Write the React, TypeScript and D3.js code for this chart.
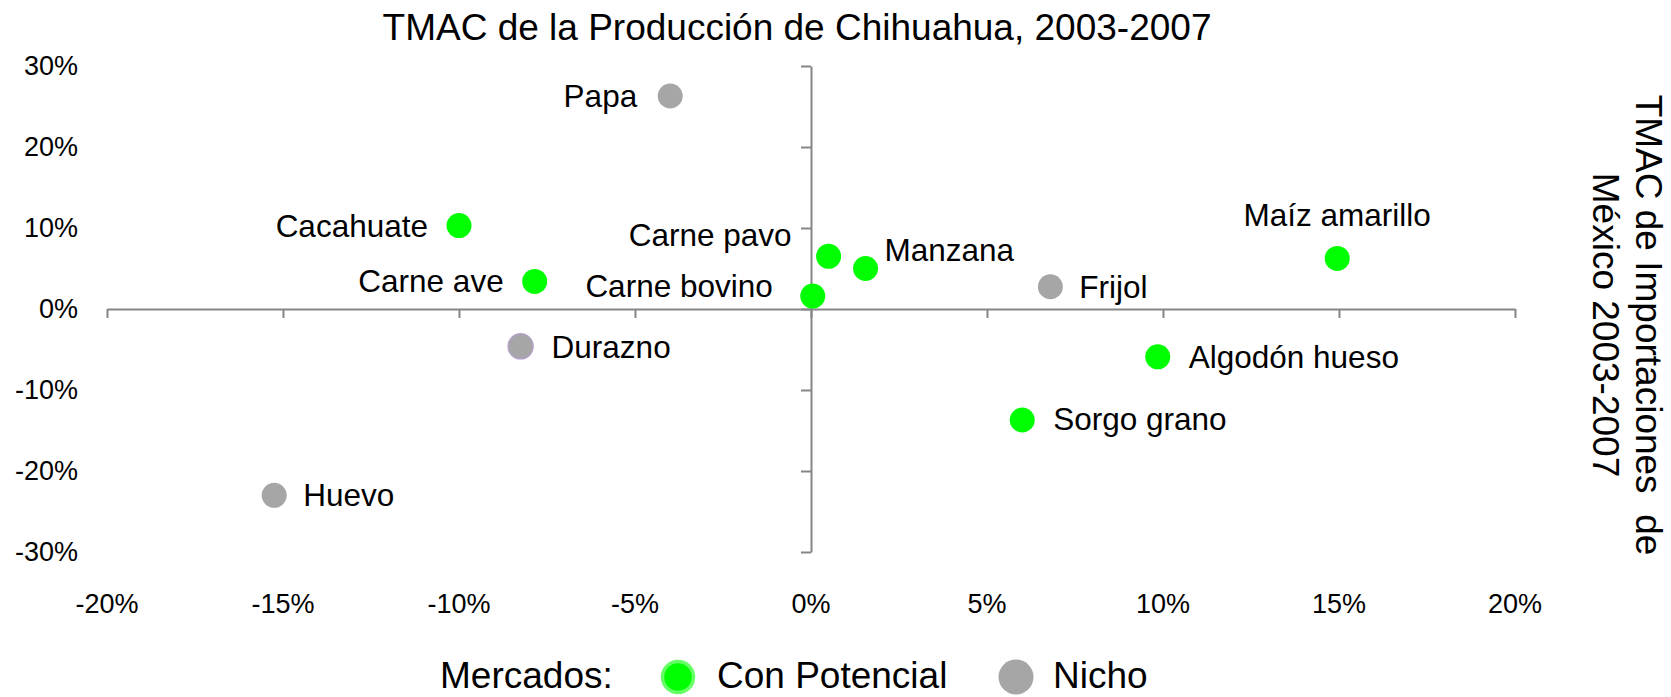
import React, { useRef, useEffect } from 'react';
import * as d3 from 'd3';

// TMAC producción Chihuahua (x) vs TMAC importaciones México (y), en %
const products = ['Papa', 'Cacahuate', 'Carne pavo', 'Carne ave', 'Carne bovino', 'Durazno', 'Manzana', 'Frijol', 'Maíz amarillo', 'Huevo', 'Algodón hueso', 'Sorgo grano'];
const prodGrowth = [-4.0, -10.0, 0.5, -7.85, 0.05, -8.25, 1.55, 6.8, 14.95, -15.25, 9.85, 6.0];
const importGrowth = [26.3, 10.3, 6.5, 3.4, 1.6, -4.6, 5.0, 2.75, 6.25, -23.0, -5.9, -13.7];
const markets = ['Nicho', 'Con Potencial', 'Con Potencial', 'Con Potencial', 'Con Potencial', 'Nicho', 'Con Potencial', 'Nicho', 'Con Potencial', 'Nicho', 'Con Potencial', 'Con Potencial'];

const xTicks = [-20, -15, -10, -5, 0, 5, 10, 15, 20];
const xTickLabels = ['-20%', '-15%', '-10%', '-5%', '0%', '5%', '10%', '15%', '20%'];
const yTicks = [-30, -20, -10, 0, 10, 20, 30];
const yTickLabels = ['-30%', '-20%', '-10%', '0%', '10%', '20%', '30%'];

const legendItems = ['Con Potencial', 'Nicho'];

// label placement relative to the marker
const labelPos = {
    'Papa': { dx: -33, dy: 11, anchor: 'end' },
    'Cacahuate': { dx: -31, dy: 11, anchor: 'end' },
    'Carne pavo': { dx: -37, dy: -10, anchor: 'end' },
    'Carne ave': { dx: -31, dy: 11, anchor: 'end' },
    'Carne bovino': { dx: -40, dy: 1, anchor: 'end' },
    'Durazno': { dx: 31, dy: 12, anchor: 'start' },
    'Manzana': { dx: 19, dy: -8, anchor: 'start' },
    'Frijol': { dx: 29, dy: 11, anchor: 'start' },
    'Maíz amarillo': { dx: 0, dy: -32, anchor: 'middle' },
    'Huevo': { dx: 29, dy: 11, anchor: 'start' },
    'Algodón hueso': { dx: 31, dy: 11, anchor: 'start' },
    'Sorgo grano': { dx: 31, dy: 10, anchor: 'start' },
};

const FONT = "'Liberation Sans', Arial, sans-serif";
const GREEN = '#00ff00';
const GREY = '#a6a6a6';
const AXIS = '#868686';

const App = () => {
    const svgRef = useRef(null);

    useEffect(() => {
        const svg = d3.select(svgRef.current);
        svg.selectAll('*').remove();
        const width = 1671;
        const height = 697;
        svg.attr('width', width).attr('height', height).style('font-family', FONT);

        const x = d3.scaleLinear().domain([-20, 20]).range([107, 1515]);
        const y = d3.scaleLinear().domain([-30, 30]).range([552, 66]);
        const color = d3.scaleOrdinal().domain(legendItems).range([GREEN, GREY]);

        // title
        svg.append('text')
            .attr('x', 797).attr('y', 40)
            .attr('text-anchor', 'middle')
            .attr('font-size', 37)
            .attr('fill', '#000')
            .text('TMAC de la Producción de Chihuahua, 2003-2007');

        // axes cross at zero
        svg.append('g')
            .attr('transform', `translate(0,${y(0)})`)
            .call(d3.axisBottom(x).tickValues(xTicks).tickSize(9).tickSizeOuter(0).tickFormat(() => ''))
            .call(g => g.selectAll('path,line').attr('stroke', AXIS).attr('stroke-width', 2));

        svg.append('g')
            .attr('transform', `translate(${x(0)},0)`)
            .call(d3.axisLeft(y).tickValues(yTicks).tickSize(10).tickSizeOuter(0).tickFormat(() => ''))
            .call(g => g.selectAll('path,line').attr('stroke', AXIS).attr('stroke-width', 2));

        // tick labels (low position)
        svg.append('g').selectAll('text')
            .data(xTicks)
            .join('text')
            .attr('x', d => x(d))
            .attr('y', 613)
            .attr('text-anchor', 'middle')
            .attr('font-size', 27)
            .text((d, i) => xTickLabels[i]);

        svg.append('g').selectAll('text')
            .data(yTicks)
            .join('text')
            .attr('x', 78)
            .attr('y', d => y(d))
            .attr('dy', '0.35em')
            .attr('text-anchor', 'end')
            .attr('font-size', 27)
            .text((d, i) => yTickLabels[i]);

        // secondary vertical title
        const t = svg.append('g').attr('font-size', 37);
        t.append('text')
            .attr('transform', 'translate(1636,325) rotate(90)')
            .attr('text-anchor', 'middle')
            .attr('xml:space', 'preserve')
            .style('white-space', 'pre')
            .text('TMAC de Importaciones  de');
        t.append('text')
            .attr('transform', 'translate(1593,325) rotate(90)')
            .attr('text-anchor', 'middle')
            .text('México 2003-2007');

        // points
        const pts = products.map((p, i) => ({ name: p, px: prodGrowth[i], py: importGrowth[i], market: markets[i] }));

        svg.append('g').selectAll('circle')
            .data(pts)
            .join('circle')
            .attr('cx', d => x(d.px))
            .attr('cy', d => y(d.py))
            .attr('r', 12.5)
            .attr('fill', d => color(d.market))
            .attr('stroke', d => d.name === 'Durazno' ? '#b3a2c7' : 'none')
            .attr('stroke-width', 1.5);

        svg.append('g').selectAll('text')
            .data(pts)
            .join('text')
            .attr('x', d => x(d.px) + labelPos[d.name].dx)
            .attr('y', d => y(d.py) + labelPos[d.name].dy)
            .attr('text-anchor', d => labelPos[d.name].anchor)
            .attr('font-size', 31.5)
            .text(d => d.name);

        // legend
        const lg = svg.append('g').attr('font-size', 37);
        lg.append('text').attr('x', 440).attr('y', 688).text('Mercados:');
        lg.append('circle').attr('cx', 678).attr('cy', 677).attr('r', 15.5)
            .attr('fill', color('Con Potencial')).attr('stroke', '#66ff66').attr('stroke-width', 3.5);
        lg.append('text').attr('x', 717).attr('y', 688).text(legendItems[0]);
        lg.append('circle').attr('cx', 1016).attr('cy', 677).attr('r', 17.5)
            .attr('fill', color('Nicho'));
        lg.append('text').attr('x', 1053).attr('y', 688).text(legendItems[1]);
    }, []);

    return (
        <div style={{ position: 'absolute', left: 0, top: 0 }}>
            <svg ref={svgRef} style={{ display: 'block' }}></svg>
        </div>
    );
};

export default App;
